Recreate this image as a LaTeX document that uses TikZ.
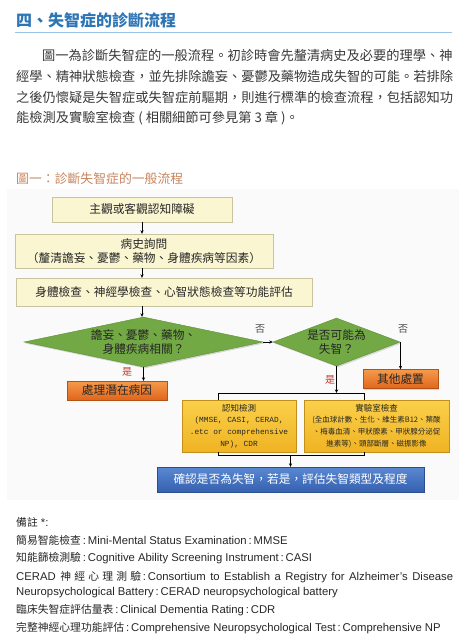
\documentclass[tikz,border=0pt]{standalone}
\usepackage{fontspec}
\setmainfont{Liberation Sans}
\newfontfamily\cjk{Noto Sans CJK TC}
\newfontfamily\codefont{Liberation Mono}
\usepackage{tikz}
\usetikzlibrary{shapes,arrows.meta,positioning,shadows}

\definecolor{headblue}{HTML}{2E75B6}
\definecolor{ruleblue}{HTML}{9DC3E6}
\definecolor{capbrown}{HTML}{C8845E}
\definecolor{bodygray}{HTML}{383838}
\definecolor{cream}{HTML}{FBF6D2}
\definecolor{creamline}{HTML}{C9C4A0}
\definecolor{leaf}{HTML}{72A944}
\definecolor{leafline}{HTML}{5E8D37}
\definecolor{orangetop}{HTML}{F59A4B}
\definecolor{orangebot}{HTML}{E0661C}
\definecolor{goldtop}{HTML}{FAD04A}
\definecolor{goldbot}{HTML}{F0B323}
\definecolor{bluetop}{HTML}{5A88D2}
\definecolor{bluebot}{HTML}{3561B0}
\definecolor{yesred}{HTML}{C0392B}

\newcommand{\zh}[1]{{\cjk\fontsize{10.8}{12}\selectfont #1}}
\newcommand{\zhgap}{\hspace{0.5pt plus 3pt minus 0.5pt}}
\newcommand{\boxhead}{\cjk\fontsize{8.5}{9.5}\selectfont}
\newcommand{\boxcode}{\codefont\fontsize{7.8}{9.2}\selectfont}
\newcommand{\boxsmall}{\cjk\fontsize{7.5}{9.2}\selectfont}

\begin{document}
\begin{tikzpicture}[x=1pt,y=-1pt,
  flowtxt/.style={font=\cjk\fontsize{11.7}{14.5}\selectfont,text=black!85},
  shade/.style={drop shadow={shadow xshift=1.2pt,shadow yshift=-1.4pt,opacity=0.3}},
  pale/.style={rectangle,draw=creamline,fill=cream,shade,align=center,inner sep=0pt,flowtxt},
  orng/.style={rectangle,draw=orangebot!80!black,top color=orangetop,bottom color=orangebot,shade,inner sep=0pt,flowtxt},
  gold/.style={rectangle,draw=goldbot!80!black,top color=goldtop,bottom color=goldbot,shade,align=center,inner sep=0pt,text=black!85},
  blu/.style={rectangle,draw=bluebot!80!black,top color=bluetop,bottom color=bluebot,shade,inner sep=0pt,font=\cjk\fontsize{11.7}{14.5}\selectfont,text=white},
  dia/.style={diamond,draw=leafline,fill=leaf,shade,inner sep=0pt,align=center,font=\cjk\fontsize{11.7}{13.5}\selectfont,text=black!85},
  flow/.style={->,>={Stealth[length=3.5pt,width=3.2pt]},line width=0.6pt},
  yes/.style={font=\cjk\fontsize{10}{10}\selectfont,text=yesred},
  no/.style={font=\cjk\fontsize{10}{10}\selectfont,text=black!70},
  para/.style={anchor=base west,font=\cjk\fontsize{13.24}{16}\selectfont,text=bodygray,inner sep=0pt},
  note/.style={anchor=base west,font=\fontsize{11.3}{13}\selectfont,text=black!85,inner sep=0pt}
]
  \useasboundingbox (0,0) rectangle (476,640);

  % Heading and paragraph
  \node[anchor=base west,inner sep=0pt,font=\cjk\bfseries\fontsize{16}{18}\selectfont,text=headblue] (title) at (16,26) {四、失智症的診斷流程};
  \draw[ruleblue,line width=0.8pt] (15,32) -- (452,32);

  \node[para] (par1) at (42,60) {圖一為診斷失智症的一般流程。初診時會先釐清病史及必要的理學、神};
  \node[para] (par2) at (16,81.7) {經學、精神狀態檢查，並先排除譫妄、憂鬱及藥物造成失智的可能。若排除};
  \node[para] (par3) at (16,102.3) {之後仍懷疑是失智症或失智症前驅期，則進行標準的檢查流程，包括認知功};
  \node[para] (par4) at (16,122.3) {能檢測及實驗室檢查 ( 相關細節可參見第 3 章 )。};

  \node[anchor=base west,inner sep=0pt,font=\cjk\fontsize{12.85}{14}\selectfont,text=capbrown] (caption) at (16,183) {圖一：診斷失智症的一般流程};

  % Figure backdrop
  \fill[black!2] (7,189) rectangle (459,500);

  % Main column
  \node[pale,minimum width=180pt,minimum height=25pt] (onset) at (142,209.5) {主觀或客觀認知障礙};
  \node[pale,minimum width=258pt,minimum height=34pt] (history) at (144,251) {病史詢問\\（釐清譫妄、憂鬱、藥物、身體疾病等因素）};
  \node[pale,minimum width=296pt,minimum height=28pt] (exam) at (164,292) {身體檢查、神經學檢查、心智狀態檢查等功能評估};

  % Decisions
  \node[dia,aspect=4.78,minimum width=239pt,minimum height=50pt] (cause) at (143.5,342) {譫妄、憂鬱、藥物、\\身體疾病相關？};
  \node[dia,aspect=2.65,minimum width=127pt,minimum height=48pt] (dementia) at (336.5,342) {是否可能為\\失智？};

  % Outcomes
  \node[orng,minimum width=100pt,minimum height=19pt] (treat) at (117,390.5) {處理潛在病因};
  \node[orng,minimum width=75pt,minimum height=19pt] (other) at (400.5,379) {其他處置};

  \node[gold,minimum width=114pt,minimum height=52pt] (cog) at (239,426) {%
    \boxhead 認知檢測\\[-0.5pt]
    \boxcode (MMSE, CASI, CERAD,\\\boxcode .etc or comprehensive\\\boxcode NP), CDR};
  \node[gold,minimum width=145pt,minimum height=52pt] (lab) at (376.5,426) {%
    \boxhead 實驗室檢查\\[-0.5pt]
    \boxsmall (全血球計數、生化、維生素B12、葉酸\\\boxsmall 、梅毒血清、甲狀腺素、甲狀腺分泌促\\\boxsmall 進素等)、頭部斷層、磁振影像};

  \node[blu,minimum width=267pt,minimum height=25pt] (final) at (290.5,479.5) {確認是否為失智，若是，評估失智類型及程度};

  % Connectors
  \coordinate (topL) at (218,393);
  \coordinate (topR) at (364,393);
  \coordinate (botL) at (218,455);
  \coordinate (botR) at (364,455);

  \draw[flow] (onset.south) -- (onset.south |- history.north);
  \draw[flow] (history.south -| onset.south) -- (onset.south |- exam.north);
  \draw[flow] (exam.south -| onset.south) -- (onset.south |- cause.north);
  \draw[flow] (cause.east) -- (dementia.west);
  \draw[flow] (dementia.east) -| (other.north);
  \draw[flow] (cause.south) -- (cause.south |- treat.north);
  \draw[flow] (dementia.south) -- (dementia.south |- topL);
  \draw[line width=0.8pt] (topL |- cog.north) -- (topL) -- (topR) -- (topR |- lab.north);
  \draw[line width=0.8pt] (cog.south -| botL) -- (botL) -- (botR) -- (lab.south -| botR);
  \draw[flow] (final.north |- botL) -- (final.north);

  % Branch labels
  \node[no] (noA) at (260,329) {否};
  \node[no] (noB) at (403,329) {否};
  \node[yes] (yesA) at (127,372) {是};
  \node[yes] (yesB) at (330,380) {是};

  % Notes
  \node[note] (n0) at (16,526) {\zh{備註} *:};
  \node[note] (n1) at (16,544) {\zh{簡易智能檢查}\,:\,Mini-Mental Status Examination\,:\,MMSE};
  \node[note] (n2) at (16,561.3) {\zh{知能篩檢測驗}\,:\,Cognitive Ability Screening Instrument\,:\,CASI};
  \node[note] (n3) at (16,580) {\makebox[437pt][s]{CERAD \zh{神\zhgap 經\zhgap 心\zhgap 理\zhgap 測\zhgap 驗}\,:\,Consortium to Establish a Registry for Alzheimer's Disease}};
  \node[note] (n4) at (16,595.7) {Neuropsychological Battery\,:\,CERAD neuropsychological battery};
  \node[note] (n5) at (16,613.3) {\zh{臨床失智症評估量表}\,:\,Clinical Dementia Rating\,:\,CDR};
  \node[note] (n6) at (16,631.3) {\zh{完整神經心理功能評估}\,:\,Comprehensive Neuropsychological Test\,:\,Comprehensive NP};
\end{tikzpicture}
\end{document}
